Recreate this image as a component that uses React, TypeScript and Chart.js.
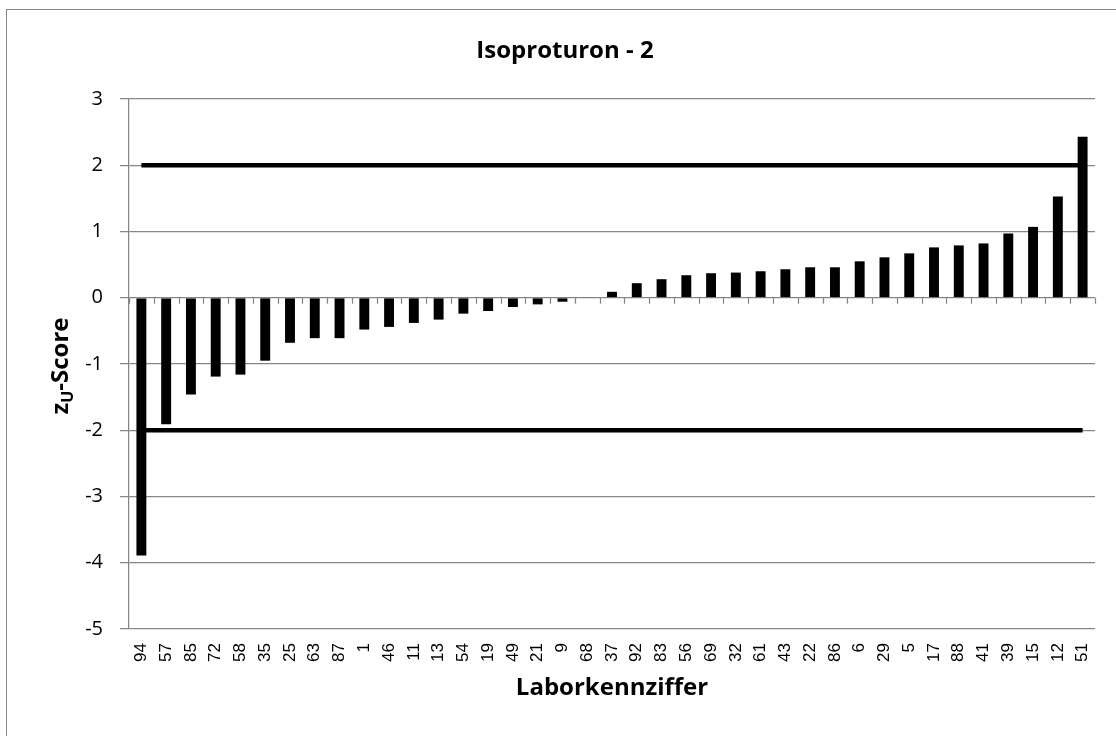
import React, { useEffect, useRef } from "react";
import { Chart, registerables } from "chart.js";

Chart.register(...registerables);

const chartTitle = "Isoproturon - 2";
const xAxisTitle = "Laborkennziffer";

const labCodes = [
  "94", "57", "85", "72", "58", "35", "25", "63", "87", "1",
  "46", "11", "13", "54", "19", "49", "21", "9", "68", "37",
  "92", "83", "56", "69", "32", "61", "43", "22", "86", "6",
  "29", "5", "17", "88", "41", "39", "15", "12", "51",
];

const zScores = [
  -3.89, -1.91, -1.46, -1.19, -1.16, -0.95, -0.68, -0.61, -0.61, -0.48,
  -0.44, -0.38, -0.33, -0.24, -0.2, -0.14, -0.1, -0.06, 0.01, 0.09,
  0.22, 0.28, 0.34, 0.37, 0.38, 0.4, 0.43, 0.46, 0.46, 0.55,
  0.61, 0.67, 0.76, 0.79, 0.82, 0.97, 1.07, 1.53, 2.43,
];

const upperLimit = 2;
const lowerLimit = -2;
const yMin = -5;
const yMax = 3;

const FONT = "'Open Sans', sans-serif";
const GRID = "#868686";

const decorPlugin = {
  id: "decor",
  beforeDatasetsDraw(chart: any) {
    const { ctx, scales } = chart;
    const x = scales.x;
    const y = scales.y;
    const y0 = y.getPixelForValue(0);
    ctx.save();
    ctx.strokeStyle = GRID;
    ctx.lineWidth = 1.25;
    for (let i = 0; i <= labCodes.length; i++) {
      const px = Math.round(x.getPixelForValue(i - 0.5)) + 0.5;
      ctx.beginPath();
      ctx.moveTo(px, y0);
      ctx.lineTo(px, y0 + 6);
      ctx.stroke();
    }
    ctx.restore();
  },
  afterDraw(chart: any) {
    const { ctx, chartArea } = chart;
    ctx.save();
    ctx.fillStyle = "#000";
    ctx.font = `bold 24px ${FONT}`;
    ctx.textAlign = "center";
    ctx.textBaseline = "alphabetic";
    ctx.fillText(chartTitle, chart.width / 2 + 2, 48);

    // y-axis title with subscript U
    const big = `bold 24px ${FONT}`;
    const small = `bold 16px ${FONT}`;
    ctx.translate(53, (chartArea.top + chartArea.bottom) / 2 + 2);
    ctx.rotate(-Math.PI / 2);
    ctx.font = big;
    const wz = ctx.measureText("z").width;
    const wRest = ctx.measureText("-Score").width;
    ctx.font = small;
    const wu = ctx.measureText("U").width;
    const total = wz + wu + wRest;
    let cx = -total / 2;
    const base = 8;
    ctx.textAlign = "left";
    ctx.font = big;
    ctx.fillText("z", cx, base);
    cx += wz;
    ctx.font = small;
    ctx.fillText("U", cx, base + 5);
    cx += wu;
    ctx.font = big;
    ctx.fillText("-Score", cx, base);
    ctx.restore();
  },
};

export default function App() {
  const canvasRef = useRef<HTMLCanvasElement | null>(null);

  useEffect(() => {
    const canvas = canvasRef.current;
    if (!canvas) return;
    const chart = new Chart(canvas, {
      type: "bar",
      data: {
        labels: labCodes,
        datasets: [
          {
            type: "line",
            label: "+2",
            data: labCodes.map(() => upperLimit),
            borderColor: "#000",
            borderWidth: 4.5,
            pointRadius: 0,
            fill: false,
            order: 2,
          } as any,
          {
            type: "line",
            label: "-2",
            data: labCodes.map(() => lowerLimit),
            borderColor: "#000",
            borderWidth: 4.5,
            pointRadius: 0,
            fill: false,
            order: 2,
          } as any,
          {
            type: "bar",
            label: "zU-Score",
            data: zScores,
            backgroundColor: "#000",
            borderWidth: 0,
            barPercentage: 0.4,
            categoryPercentage: 1.0,
            order: 1,
          },
        ],
      },
      options: {
        animation: false,
        responsive: false,
        maintainAspectRatio: false,
        layout: { padding: { top: 89, right: 24, left: 0, bottom: 0 } },
        plugins: {
          legend: { display: false },
          tooltip: { enabled: false },
          title: { display: false },
        },
        scales: {
          x: {
            type: "category",
            offset: true,
            grid: { display: false, drawTicks: false },
            border: { display: false },
            ticks: {
              autoSkip: false,
              maxRotation: 90,
              minRotation: 90,
              padding: 14,
              color: "#000",
              font: { family: "'Liberation Sans', Arial, sans-serif", size: 17 },
            },
            title: {
              display: true,
              text: xAxisTitle,
              color: "#000",
              font: { family: FONT, size: 24, weight: "bold" },
              padding: { top: 0, bottom: 37 },
            },
            afterFit: (s: any) => {
              s.height = 111;
            },
          },
          y: {
            min: yMin,
            max: yMax,
            ticks: {
              stepSize: 1,
              padding: 17,
              color: "#000",
              font: { family: FONT, size: 20 },
            },
            grid: { color: GRID, lineWidth: 1.25, tickLength: 9, drawTicks: true },
            border: { display: true, color: GRID, width: 1.25 },
            afterFit: (s: any) => {
              s.width = 122;
            },
          },
        },
      } as any,
      plugins: [decorPlugin],
    });
    return () => chart.destroy();
  }, []);

  return (
    <div
      style={{
        position: "fixed",
        left: 6,
        top: 9,
        width: 1120,
        height: 740,
        boxSizing: "border-box",
        border: `1px solid ${GRID}`,
        background: "#fff",
      }}
    >
      <canvas
        ref={canvasRef}
        width={1112}
        height={730}
        style={{ display: "block", width: 1112, height: 730 }}
      />
    </div>
  );
}
